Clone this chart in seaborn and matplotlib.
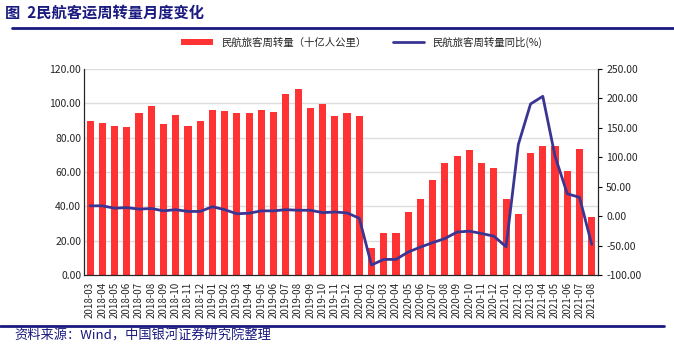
import numpy as np
import pandas as pd
import matplotlib
matplotlib.use("Agg")
import matplotlib.pyplot as plt
from matplotlib.lines import Line2D
import seaborn as sns

sns.set_style("white")
plt.rcParams['font.family'] = ['Noto Sans CJK SC', 'DejaVu Sans']

months = ["2018-03", "2018-04", "2018-05", "2018-06", "2018-07", "2018-08", "2018-09", "2018-10",
          "2018-11", "2018-12", "2019-01", "2019-02", "2019-03", "2019-04", "2019-05", "2019-06",
          "2019-07", "2019-08", "2019-09", "2019-10", "2019-11", "2019-12", "2020-01", "2020-02",
          "2020-03", "2020-04", "2020-05", "2020-06", "2020-07", "2020-08", "2020-09", "2020-10",
          "2020-11", "2020-12", "2021-01", "2021-02", "2021-03", "2021-04", "2021-05", "2021-06",
          "2021-07", "2021-08"]
volume = [89.5, 88.3, 86.8, 86.3, 94.3, 98.7, 88.0, 93.2, 86.9, 89.6,
          96.0, 95.6, 94.3, 94.1, 96.0, 94.9, 105.2, 108.6, 97.0, 99.6,
          92.9, 94.5, 92.6, 16.0, 24.5, 24.7, 36.7, 44.0, 55.5, 65.2,
          69.5, 73.0, 65.0, 62.5, 44.3, 35.7, 71.0, 75.4, 75.0, 60.5,
          73.3, 33.8]
yoy = [17.5, 17.5, 13.5, 14.5, 12.0, 13.0, 9.0, 11.0, 8.0, 8.0,
       16.0, 11.0, 4.0, 5.0, 9.0, 9.0, 11.0, 10.0, 10.0, 6.0,
       7.0, 5.5, -3.5, -83.0, -73.5, -73.5, -61.0, -52.6, -45.0, -38.0,
       -27.0, -25.5, -29.5, -34.0, -52.0, 121.6, 190.6, 203.6, 102.0, 38.0,
       32.0, -48.0]

bar_label = "民航旅客周转量（十亿人公里）"
line_label = "民航旅客周转量同比(%)"
navy = "#1a1a80"

df = pd.DataFrame({"month": months, "volume": volume, "yoy": yoy})
df["pos"] = np.arange(len(df))

fig = plt.figure(figsize=(6.74, 3.57), dpi=100)
ax = fig.add_axes([0.1246, 0.2297, 0.7624, 0.577])

sns.barplot(data=df, x="month", y="volume", color="#ff3333", width=0.58,
            saturation=1, ax=ax, label=bar_label, linewidth=0)
ax.set_ylim(0, 120)
ax.set_yticks(np.arange(0, 121, 20))
ax.set_yticklabels([f"{v:.2f}" for v in np.arange(0, 121, 20)], fontsize=7.5)
ax.yaxis.grid(True, color="#dddddd", linewidth=1)
ax.set_axisbelow(True)
ax.set_xlim(-0.5, len(months) - 0.5)
ax.set_xticks(range(len(months)))
ax.set_xticklabels(months, rotation=90, fontsize=7)
ax.set_xlabel("")
ax.set_ylabel("")
ax.tick_params(axis="both", which="both", direction="out", length=3, width=0.8, color="black", pad=2)
ax.tick_params(axis="y", length=0)
ax.spines["top"].set_visible(False)
for s in ["left", "bottom", "right"]:
    ax.spines[s].set_color("black")
    ax.spines[s].set_linewidth(0.8)

ax2 = ax.twinx()
sns.lineplot(data=df, x="pos", y="yoy", color="#3a3593", linewidth=2, ax=ax2, label=line_label)
ax2.set_ylim(-100, 250)
ax2.set_yticks(np.arange(-100, 251, 50))
ax2.set_yticklabels([f"{v:.2f}" for v in np.arange(-100, 251, 50)], fontsize=7.5)
ax2.set_xlim(-0.5, len(months) - 0.5)
ax2.set_ylabel("")
ax2.tick_params(axis="y", direction="out", length=3, width=0.8, color="black", pad=3)
ax2.spines["top"].set_visible(False)
ax2.spines["right"].set_linewidth(0.8)

h1, l1 = ax.get_legend_handles_labels()
h2, l2 = ax2.get_legend_handles_labels()
ax2.get_legend().remove()
if ax.get_legend():
    ax.get_legend().remove()
fig.legend(h1 + h2, l1 + l2, loc="center", bbox_to_anchor=(0.537, 0.882), ncol=2,
           frameon=False, fontsize=7.5, handlelength=3, handleheight=0.5, columnspacing=2.6)

fig.text(0.008, 0.965, "图  2民航客运周转量月度变化", fontsize=11, fontweight="bold",
         color=navy, va="center")
fig.add_artist(Line2D([0.018, 1.0], [0.922, 0.922], color=navy, linewidth=2))
fig.add_artist(Line2D([0.0, 0.985], [0.087, 0.087], color=navy, linewidth=2))
fig.text(0.022, 0.058, "资料来源：Wind，中国银河证券研究院整理", fontsize=9.5, style="italic",
         color=navy, va="center")

fig.savefig("out.png", dpi=100)
